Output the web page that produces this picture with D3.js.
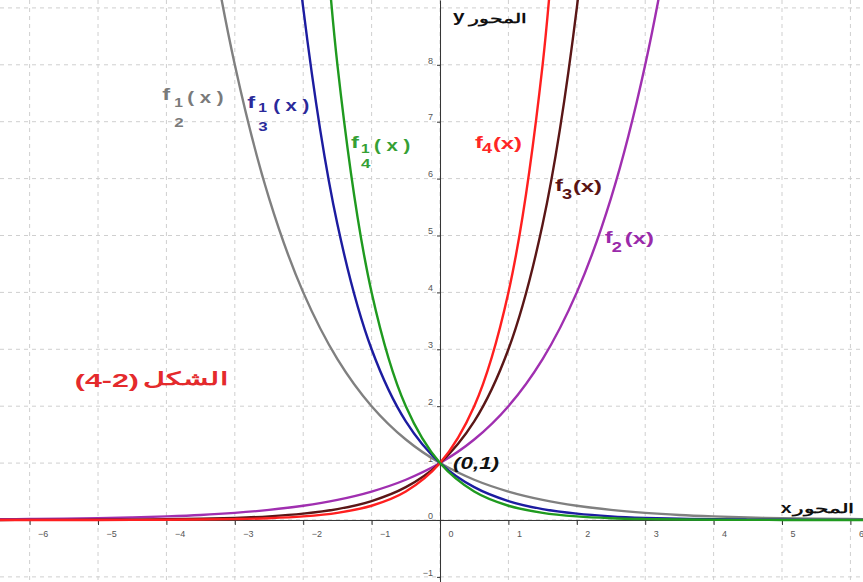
<!DOCTYPE html>
<html>
<head>
<meta charset="utf-8">
<script src="https://cdn.jsdelivr.net/npm/d3@7"></script>
<style>
  body { margin: 0; background: #fff; }
  svg { display: block; font-family: "Liberation Sans", Arial, sans-serif; }
  .tick text { fill: #555; font-size: 9px; }
</style>
</head>
<body>
<div id="chart"></div>
<script>
// x samples shared by every curve
const xs = [-6.5, -6, -5.5, -5, -4.5, -4, -3.5, -3, -2.5, -2, -1.5, -1, -0.5, 0,
            0.5, 1, 1.5, 2, 2.5, 3, 3.5, 4, 4.5, 5, 5.5, 6, 6.5];

// values (null = outside the picture)
const f2 = [0.011, 0.016, 0.022, 0.031, 0.044, 0.063, 0.088, 0.125, 0.177, 0.25, 0.354, 0.5, 0.707, 1,
            1.414, 2, 2.828, 4, 5.657, 8, 11.31, 16, null, null, null, null, null];
const f3 = [0.0008, 0.0014, 0.0024, 0.0041, 0.0071, 0.0123, 0.0214, 0.037, 0.064, 0.111, 0.192, 0.333, 0.577, 1,
            1.732, 3, 5.196, 9, 15.59, null, null, null, null, null, null, null, null];
const f4 = [0.0001, 0.0002, 0.0005, 0.001, 0.002, 0.0039, 0.0078, 0.0156, 0.031, 0.0625, 0.125, 0.25, 0.5, 1,
            2, 4, 8, 16, null, null, null, null, null, null, null, null, null];
const fHalf = [null, null, null, null, null, 16, 11.31, 8, 5.657, 4, 2.828, 2, 1.414, 1,
               0.707, 0.5, 0.354, 0.25, 0.177, 0.125, 0.088, 0.063, 0.044, 0.031, 0.022, 0.016, 0.011];
const fThird = [null, null, null, null, null, null, null, null, 15.59, 9, 5.196, 3, 1.732, 1,
                0.577, 0.333, 0.192, 0.111, 0.064, 0.037, 0.0214, 0.0123, 0.0071, 0.0041, 0.0024, 0.0014, 0.0008];
const fQuarter = [null, null, null, null, null, null, null, null, null, 16, 8, 4, 2, 1,
                  0.5, 0.25, 0.125, 0.0625, 0.031, 0.0156, 0.0078, 0.0039, 0.002, 0.001, 0.0005, 0.0002, 0.0001];

const xTicks = [-6, -5, -4, -3, -2, -1, 0, 1, 2, 3, 4, 5, 6];
const yTicks = [-1, 0, 1, 2, 3, 4, 5, 6, 7, 8];
const yGrid = [-1, 0, 1, 2, 3, 4, 5, 6, 7, 8, 9];

const width = 863, height = 582;

const xScale = d3.scaleLinear().domain([-6.433, 6.184]).range([0, width]);
const yScale = d3.scaleLinear().domain([-1.09, 9.139]).range([height, 0]);

const $svg = d3.select('#chart').append('svg')
  .attr('width', width)
  .attr('height', height);

$svg.append('defs').append('clipPath').attr('id', 'clip')
  .append('rect').attr('width', width).attr('height', height);

// grid
const $grid = $svg.append('g')
  .style('stroke', '#cfcfcf')
  .style('stroke-dasharray', '4,4');

$grid.selectAll('.vg')
  .data(xTicks)
  .enter()
  .append('line')
  .attr('x1', d => xScale(d)).attr('x2', d => xScale(d))
  .attr('y1', 0).attr('y2', height);

$grid.selectAll('.hg')
  .data(yGrid)
  .enter()
  .append('line')
  .attr('y1', d => yScale(d)).attr('y2', d => yScale(d))
  .attr('x1', 0).attr('x2', width);

// axes
const xAxis = d3.axisBottom(xScale)
  .tickValues(xTicks)
  .tickSizeInner(5)
  .tickSizeOuter(0)
  .tickPadding(6)
  .tickFormat(d3.format('d'));

const yAxis = d3.axisLeft(yScale)
  .tickValues(yTicks)
  .tickSizeInner(3)
  .tickSizeOuter(0)
  .tickPadding(4)
  .tickFormat(d3.format('d'));

const $xAxisGroup = $svg.append('g')
  .attr('transform', `translate(0, ${yScale(0)})`)
  .call(xAxis);
$xAxisGroup.selectAll('.tick text').attr('x', 8).attr('text-anchor', 'start');

const $yAxisGroup = $svg.append('g')
  .attr('transform', `translate(${xScale(0)}, 0)`)
  .call(yAxis);
$yAxisGroup.selectAll('.tick text').attr('dy', '-0.2em');

$svg.selectAll('.domain, .tick line').style('stroke', '#333');

// curves
const series = [
  { values: fHalf, color: '#808080' },
  { values: f2, color: '#a02fb0' },
  { values: fThird, color: '#1c1ca0' },
  { values: f3, color: '#5a1616' },
  { values: f4, color: '#ff1f1f' },
  { values: fQuarter, color: '#1f9a1f' }
];

const line = d3.line()
  .defined(d => d[1] != null)
  .x(d => xScale(d[0]))
  .y(d => yScale(d[1]))
  .curve(d3.curveCatmullRom);

$svg.append('g')
  .attr('clip-path', 'url(#clip)')
  .selectAll('path')
  .data(series)
  .enter()
  .append('path')
  .attr('d', s => line(xs.map((x, i) => [x, s.values[i]])))
  .style('fill', 'none')
  .style('stroke', d => d.color)
  .style('stroke-width', 2.4);

// text helper: the picture's lettering is stretched sideways
function txt($p, x, y, s, size, sx) {
  return $p.append('text')
    .attr('transform', `translate(${x},${y}) scale(${sx},1)`)
    .style('font-size', size + 'px')
    .attr('xml:space', 'preserve')
    .text(s);
}

// function labels
const $labels = $svg.append('g').style('font-weight', 'bold');

function fracLabel(px, py, den, color, o) {
  const $l = $labels.append('g').style('fill', color);
  txt($l, px, py, 'f', 17, 1.4);
  txt($l, px + o.nx, py + o.ny, '1', 12, 1.3);
  txt($l, px + o.nx, py + o.dy, den, 13, 1.3);
  txt($l, px + o.px, py + 3, '( x )', 17, 1.2);
}

function subLabel(px, py, sub, color, o) {
  const $l = $labels.append('g').style('fill', color);
  txt($l, px, py, 'f', 17, 1.4);
  txt($l, px + 7, py + o.sy, sub, 14, 1.3);
  txt($l, px + o.px, py + 1, '(x)', 17, 1.4);
}

fracLabel(xScale(-4.06), yScale(7.38), '2', '#7a7a7a', { nx: 12, ny: 7, dy: 27, px: 25 });
fracLabel(xScale(-2.82), yScale(7.24), '3', '#2a2a9a', { nx: 11, ny: 4, dy: 23, px: 26 });
fracLabel(xScale(-1.3), yScale(6.53), '4', '#35a035', { nx: 10, ny: 5, dy: 20, px: 23 });
subLabel(xScale(0.51), yScale(6.54), '4', '#ff2626', { sy: 5, px: 18 });
subLabel(xScale(1.68), yScale(5.79), '3', '#5a1414', { sy: 8, px: 18 });
subLabel(xScale(2.41), yScale(4.87), '2', '#9a2aaa', { sy: 9, px: 20 });

// point label
txt($svg, xScale(0.19), yScale(0.895), '(0,1)', 16, 1.4)
  .style('font-weight', 'bold')
  .style('font-style', 'italic')
  .style('fill', '#111');

// Arabic text, squeezed or stretched to the width it has in the picture
function fitText($p, x, y, s, size, w) {
  const $t = txt($p, x, y, s, size, 1);
  const tw = $t.node().getComputedTextLength();
  $t.attr('transform', `translate(${x},${y}) scale(${w / tw},1)`);
  return $t;
}

// axis names
const $names = $svg.append('g').style('font-weight', 'bold').style('fill', '#111');
txt($names, xScale(4.98), yScale(0.125), 'x', 15, 1.3);
fitText($names, xScale(5.16), yScale(0.12), 'المحور', 13, 62);
txt($names, xScale(0.19), yScale(8.76), 'y', 16, 1.3);
fitText($names, xScale(0.43), yScale(8.74), 'المحور', 13, 58);

// figure caption
const $cap = $svg.append('g').style('fill', '#e42a2c').style('font-weight', 'bold');
txt($cap, xScale(-5.34), yScale(2.34), '(4-2)', 19, 1.6);
fitText($cap, xScale(-4.34), yScale(2.37), 'الشكل', 18, 84);
</script>
</body>
</html>
